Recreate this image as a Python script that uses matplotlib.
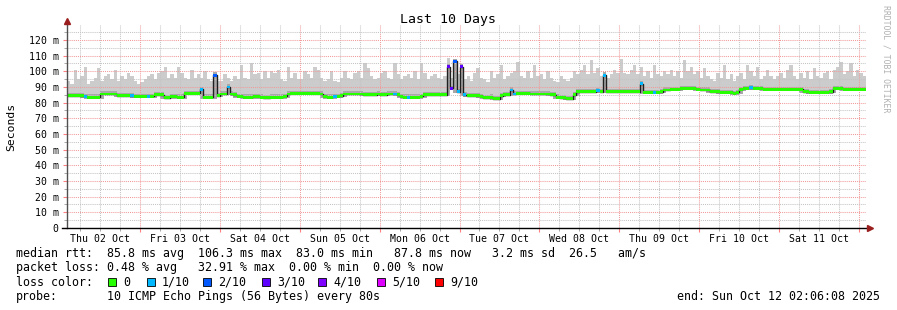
import numpy as np
import matplotlib
matplotlib.use("Agg")
import matplotlib.pyplot as plt
import matplotlib.dates as mdates
from matplotlib.ticker import MultipleLocator, FuncFormatter, NullFormatter
from matplotlib.patches import Rectangle
from datetime import datetime, timedelta

# ---------------- data (hourly, 10 days ending Sun Oct 12 02:06:08 2025) ----------------
title = "Last 10 Days"
end_time = datetime(2025, 10, 12, 2, 6, 8)
start_time = datetime(2025, 10, 2, 2, 6, 8)

# median round-trip time in ms, one value per hour (rows = days)
median_ms = (
    [84.5, 84.5, 84.5, 84.5, 84.5, 84, 83.5, 83.5, 83.5, 83.5, 85.5, 85.5, 85.5, 85.5, 85.5, 84.5, 84.5, 84.5, 84.5, 84.5, 84, 84]  # Thu 02 (from 02h)
    + [84, 84, 84, 84, 85, 85, 85, 83, 83, 84, 84, 83.5, 83.5, 86, 86, 86, 86, 86, 88.5, 83.5, 83.5, 83.5, 97.5, 84.5]  # Fri 03
    + [85.5, 85.5, 90, 85.5, 85, 84, 84, 83.5, 83.5, 83.5, 84, 84, 83.5, 83, 83, 83.5, 83.5, 83.5, 83.5, 84, 85.5, 86, 86, 86]  # Sat 04
    + [86, 86, 86, 86, 86, 86, 85.5, 84, 83.5, 83.5, 84, 84, 84.5, 85.5, 85.5, 85.5, 85.5, 85.5, 85.5, 85, 85, 85, 85, 85.5]  # Sun 05
    + [85, 85, 85.5, 85.5, 85.5, 85, 84, 83.5, 83.5, 83.5, 83.5, 83.5, 84, 85, 85, 85, 85, 85, 85, 85, 103, 89, 106.3, 87]  # Mon 06
    + [103, 85, 84.5, 84.5, 84.5, 84.5, 84, 83, 83, 83.5, 82.5, 82.5, 84.5, 85, 85, 88, 85.5, 86, 86, 86, 86, 85.5, 85.5, 85.5]  # Tue 07
    + [85.5, 85.5, 85.5, 85, 85, 83.5, 83, 83, 82.5, 82.5, 85, 87, 87, 87, 87, 87, 87, 87.5, 87, 97.5, 87, 87, 87, 87]  # Wed 08
    + [87, 87, 87, 87, 87, 87, 92, 86.5, 86.5, 86.5, 86.5, 86.5, 87, 88, 88, 88.5, 88.5, 88.5, 89, 89, 89, 89, 89, 88.5]  # Thu 09
    + [88, 88, 88, 87, 87, 87, 86.5, 86.5, 86.5, 86.5, 86, 86.5, 88.5, 89, 89, 89.5, 89, 89, 89, 88.5, 88.5, 88.5, 88.5, 88.5]  # Fri 10
    + [88.5, 88.5, 88.5, 88.5, 88.5, 88.5, 88.5, 87, 87, 86.5, 86.5, 86.5, 86.5, 86.5, 86.5, 87, 89, 89, 89, 88.5, 88.5, 88.5, 88.5, 88.5]  # Sat 11
    + [88.5, 88.5]  # Sun 12
)

# slowest ping of each hour in ms (top of the smoke)
smoke_top_ms = (
    [94, 92, 101, 95, 97, 103, 92, 94, 96, 102, 94, 97, 98, 95, 101, 94, 97, 95, 99, 97, 94, 92]
    + [93, 95, 97, 98, 95, 99, 100, 103, 96, 98, 96, 103, 99, 96, 95, 101, 96, 98, 96, 100, 95, 94, 99, 94]
    + [94, 98, 96, 94, 97, 95, 104, 96, 95, 105, 98, 99, 95, 100, 96, 100, 99, 101, 95, 94, 103, 96, 99, 95]
    + [95, 100, 98, 96, 103, 101, 96, 94, 95, 100, 94, 93, 96, 100, 96, 95, 99, 100, 96, 105, 102, 97, 95, 96]
    + [99, 100, 96, 95, 105, 98, 95, 97, 98, 96, 100, 95, 105, 99, 95, 97, 98, 96, 95, 97, 108.5, 96, 107, 98]
    + [103, 95, 97, 94, 99, 102, 96, 95, 93, 100, 96, 98, 104, 95, 97, 99, 100, 106, 97, 96, 100, 96, 104, 97]
    + [98, 95, 100, 96, 94, 93, 97, 95, 94, 96, 100, 98, 101, 104, 98, 107, 99, 102, 97, 99, 96, 98, 101, 99]
    + [108, 99, 98, 101, 104, 98, 103, 97, 100, 96, 104, 98, 97, 100, 98, 101, 97, 100, 96, 107, 100, 103, 98, 100]
    + [96, 102, 97, 95, 94, 99, 96, 104, 95, 98, 94, 97, 99, 95, 104, 100, 97, 103, 95, 97, 101, 97, 95, 97]
    + [99, 96, 101, 104, 97, 95, 99, 96, 100, 95, 102, 97, 96, 99, 100, 95, 101, 103, 106, 98, 100, 105, 97, 101]
    + [99, 97]
)

# hours (index into the series) that had packet loss, and how many of 10 pings were lost
loss_event_hour = [5, 19, 24, 40, 44, 48, 80, 98, 102, 114, 115, 116, 117, 118, 119, 133, 134, 159, 161, 172, 176, 205]
loss_event_tenths = [1, 1, 1, 1, 2, 1, 1, 1, 1, 3, 3, 2, 1, 3, 1, 1, 1, 1, 1, 1, 1, 1]

loss_levels = [0, 1, 2, 3, 4, 5, 9]
loss_labels = ["0", "1/10", "2/10", "3/10", "4/10", "5/10", "9/10"]
loss_colors = ["#26ff00", "#00b8ff", "#0059ff", "#5e00ff", "#7e00ff", "#dd00ff", "#ff0000"]

y_ticks_ms = [0, 10, 20, 30, 40, 50, 60, 70, 80, 90, 100, 110, 120]

stats_line1 = "median rtt:  85.8 ms avg  106.3 ms max  83.0 ms min   87.8 ms now   3.2 ms sd  26.5   am/s"
stats_line2 = "packet loss: 0.48 % avg   32.91 % max  0.00 % min  0.00 % now"
probe_text = "10 ICMP Echo Pings (56 Bytes) every 80s"
end_text = "end: Sun Oct 12 02:06:08 2025"

# ---------------- figure ----------------
W, H, DPI = 897, 310, 100
MONO = "DejaVu Sans Mono"
fig = plt.figure(figsize=(W / DPI, H / DPI), dpi=DPI)
fig.patch.set_facecolor("white")
L, R, B, T = 67, 866, 228, 25
ax = fig.add_axes([L / W, 1 - B / H, (R - L) / W, (B - T) / H])

med = np.array(median_ms, dtype=float)
top = np.array(smoke_top_ms, dtype=float)
N = len(med)
loss = np.zeros(N, dtype=int)
loss[loss_event_hour] = loss_event_tenths
color_of = dict(zip(loss_levels, loss_colors))

edges = mdates.date2num([start_time + timedelta(hours=k) for k in range(N + 1)])
left_edges = edges[:-1]
width = edges[1] - edges[0]

def ext(a):
    return np.append(a, a[-1])

# smoke
lo = med - 0.9
ax.fill_between(edges, ext(lo), ext(top), step="post", color="#cccccc", lw=0, zorder=1)
padded = np.pad(med, 1, mode="edge")
base = np.minimum(np.minimum(padded[:-2], padded[1:-1]), padded[2:])
ax.fill_between(edges, ext(base - 0.9), ext(med + 1.7), step="post", color="#a8a8a8", lw=0, zorder=1.2)
# median line
ax.step(edges, ext(med), where="post", color="#202020", lw=1.0, zorder=2.8)
# loss-coloured median band
ax.bar(left_edges, 1.8, width=width, bottom=med - 0.9, align="edge",
       color=[color_of[v] for v in loss], lw=0, zorder=3)

ax.set_xlim(mdates.date2num(start_time), mdates.date2num(end_time))
ax.set_ylim(0, 129.5)

ax.yaxis.set_major_locator(MultipleLocator(10))
ax.yaxis.set_minor_locator(MultipleLocator(5))
ax.set_yticks(y_ticks_ms)
ax.set_yticklabels([("%d m" % v) if v else "0" for v in y_ticks_ms], family=MONO, fontsize=7.1)

ax.xaxis.set_major_locator(mdates.DayLocator())
ax.xaxis.set_major_formatter(NullFormatter())
ax.xaxis.set_minor_locator(mdates.HourLocator(byhour=[6, 12, 18]))

def day_fmt(x, pos):
    d = mdates.num2date(x)
    return d.strftime("%a %d %b") if d.hour == 12 else ""

ax.xaxis.set_minor_formatter(FuncFormatter(day_fmt))
ax.tick_params(axis="x", which="minor", labelsize=7.1, length=2, pad=2, color="#999999")
ax.tick_params(axis="x", which="major", length=3, color="#ff8080")
ax.tick_params(axis="y", which="major", length=3, pad=3, color="#ff8080")
ax.tick_params(axis="y", which="minor", length=2, color="#999999")
for lab in ax.get_xticklabels(minor=True):
    lab.set_family(MONO)

ax.set_axisbelow(False)
dots = (0, (1, 1))
ax.grid(which="minor", color="#c4c4c4", lw=0.75, ls=dots)
ax.grid(which="major", color="#f29a9a", lw=0.75, ls=dots)

for s in ax.spines.values():
    s.set_visible(False)
ax.plot([0, 0], [0, 1.01], transform=ax.transAxes, color="#505050", lw=1, clip_on=False, zorder=5)
ax.plot([-0.006, 1.004], [0, 0], transform=ax.transAxes, color="#000000", lw=1, clip_on=False, zorder=5)
ax.plot([0], [1.02], marker="^", ms=4.5, color="#9a1e1e", transform=ax.transAxes, clip_on=False, zorder=6)
ax.plot([1.005], [0], marker=">", ms=4.5, color="#9a1e1e", transform=ax.transAxes, clip_on=False, zorder=6)

ax.set_ylabel("Seconds", family=MONO, fontsize=8.2, labelpad=9)

fig.text(448 / W, 1 - 19 / H, title, ha="center", va="center", family=MONO, fontsize=9.5)
fig.text(886 / W, 1 - 5 / H, "RRDTOOL / TOBI OETIKER", rotation=270, ha="center", va="top",
         family=MONO, fontsize=5.9, color="#b0b0b0")

# legend block
fs = 8.35
def row(y):
    return 1 - y / H

fig.text(16 / W, row(254), stats_line1, ha="left", va="center", family=MONO, fontsize=fs)
fig.text(16 / W, row(268), stats_line2, ha="left", va="center", family=MONO, fontsize=fs)
fig.text(16 / W, row(282), "loss color:", ha="left", va="center", family=MONO, fontsize=fs)
sq_x = [108, 147, 203, 262, 318, 377, 435]
for xs, c, lab in zip(sq_x, loss_colors, loss_labels):
    fig.patches.append(Rectangle((xs / W, row(286)), 8 / W, 8 / H, transform=fig.transFigure,
                                 facecolor=c, edgecolor="#000000", lw=0.6))
    fig.text((xs + 15) / W, row(282), lab, ha="left", va="center", family=MONO, fontsize=fs)
fig.text(16 / W, row(296.5), "probe:", ha="left", va="center", family=MONO, fontsize=fs)
fig.text(107 / W, row(296.5), probe_text, ha="left", va="center", family=MONO, fontsize=fs)
fig.text(880 / W, row(296.5), end_text, ha="right", va="center", family=MONO, fontsize=fs)

fig.savefig("out.png", dpi=DPI, facecolor="white")
